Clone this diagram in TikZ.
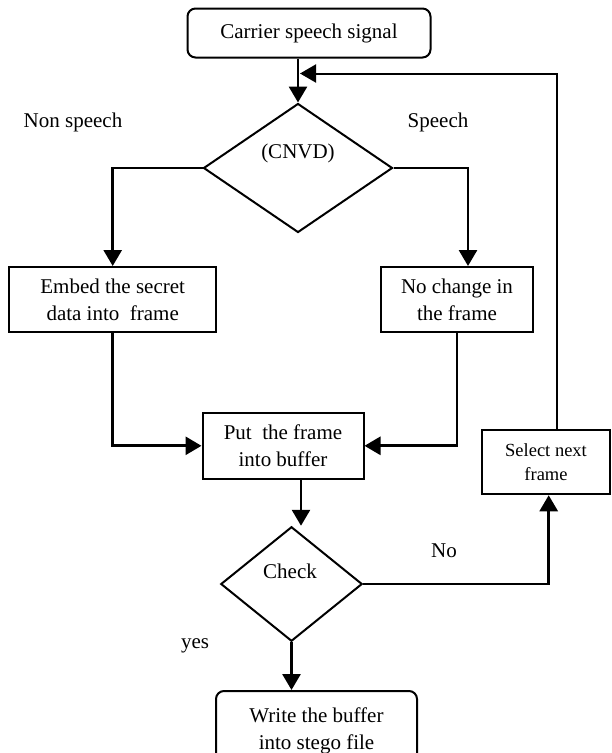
\documentclass[tikz,border=0pt]{standalone}
\usepackage{fontspec}
\setmainfont{Liberation Serif}
\usetikzlibrary{shapes.geometric,arrows.meta}
\begin{document}
\begin{tikzpicture}[x=1pt,y=-1pt,
  box/.style={draw,line width=2pt,inner sep=0pt,align=center,font=\fontsize{21}{27}\selectfont},
  rbox/.style={box,rounded corners=8pt},
  dec/.style={draw,diamond,line width=2pt,inner sep=0pt},
  lbl/.style={inner sep=0pt,font=\fontsize{21}{27}\selectfont},
  arr/.style={line width=2.8pt,-{Triangle[length=16pt,width=18pt]}},
  fb/.style={line width=2pt,-{Triangle[length=16pt,width=18pt]}}]
\clip (0,0) rectangle (611,753);
% nodes
\node[rbox,minimum width=243pt,minimum height=49pt] (top) at (309,33) {Carrier speech signal};
\node[dec,minimum width=189pt,minimum height=129pt] (cnvd) at (298,168) {};
\node[lbl] (cnvdt) at (298,153) {(CNVD)};
\node[box,minimum width=206.6pt,minimum height=65pt] (embed) at (112.7,299.5) {Embed the secret\\data into~ frame};
\node[box,minimum width=151.5pt,minimum height=65pt] (nochange) at (457,299.5) {No change in\\the frame};
\node[box,minimum width=161pt,minimum height=65.6pt] (put) at (283,445.8) {Put~ the frame\\into buffer};
\node[dec,minimum width=141.4pt,minimum height=114.5pt] (check) at (291.5,584) {};
\node[lbl] (checkt) at (290,571) {Check};
\node[box,font=\fontsize{18.5}{24}\selectfont,minimum width=128pt,minimum height=64.5pt] (select) at (546,462) {Select next\\frame};
\node[rbox,minimum width=201pt,minimum height=80pt] (write) at (316.5,731) {Write the buffer\\into stego file};
% labels
\node[lbl] (nonsp) at (73,122) {Non speech};
\node[lbl] (sp) at (438,122) {Speech};
\node[lbl] (no) at (444,551) {No};
\node[lbl] (yes) at (195,646) {yes};
% helper coordinates
\coordinate (rx) at (468,0);
\coordinate (px) at (301,0);
\coordinate (sx) at (548.7,0);
\coordinate (fbturn) at (557,73.5);
\coordinate (fbend) at (300,73.5);
% connectors
\draw[arr] (top.south -| cnvd.north) -- (cnvd.north);
\draw[arr] (cnvd.west) -| (embed.north);
\draw[arr] (cnvd.east) -| (rx |- nochange.north);
\draw[arr] (embed.south) |- (put.west);
\draw[arr] (nochange.south) |- (put.east);
\draw[arr] (put.south -| px) -- (check.north -| px);
\draw[arr] (check.east) -| (sx |- select.south);
\draw[arr] (check.south) -- (check.south |- write.north);
\draw[fb] (select.north -| fbturn) -- (fbturn) -- (fbend);
\end{tikzpicture}
\end{document}
